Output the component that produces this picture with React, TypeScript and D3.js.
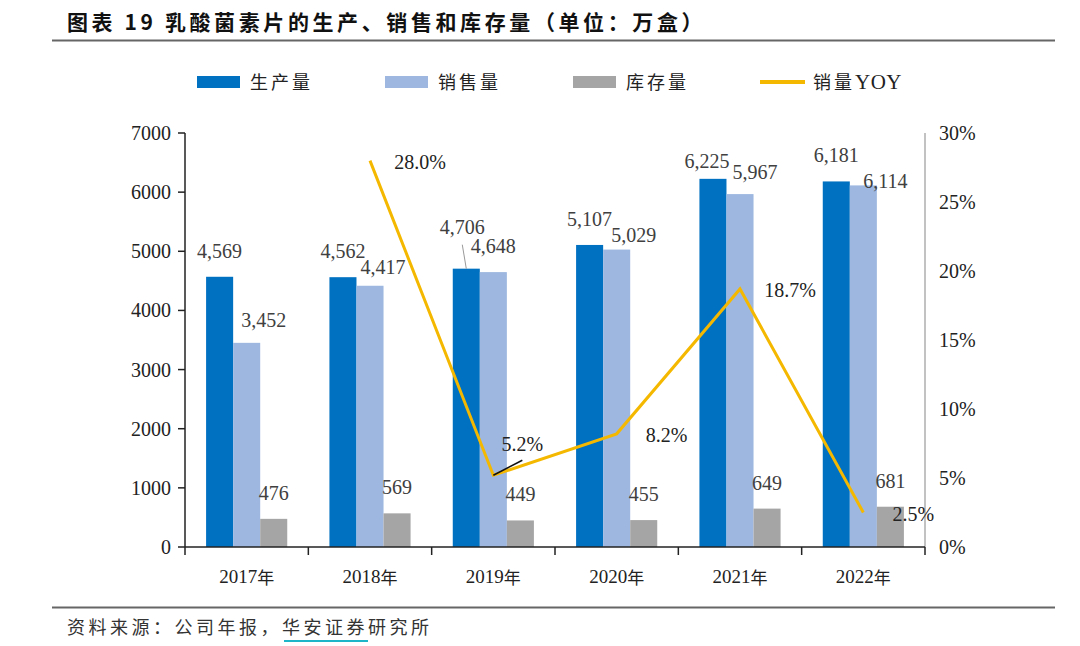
import * as d3 from "d3";

const years = ["2017年", "2018年", "2019年", "2020年", "2021年", "2022年"];
const production = [4569, 4562, 4706, 5107, 6225, 6181];
const sales = [3452, 4417, 4648, 5029, 5967, 6114];
const inventory = [476, 569, 449, 455, 649, 681];
// sales YOY, first year has none
const yoy = [null, 28.0, 5.2, 8.2, 18.7, 2.5];
const leftTicks = [0, 1000, 2000, 3000, 4000, 5000, 6000, 7000];
const rightTicks = [0, 5, 10, 15, 20, 25, 30];

// label nudges (excel moved a few labels to avoid overlap)
const prodNudge = [[0, 0], [0, 0], [-4, -16], [0, 0], [-6, 8], [0, 0]];
const salesNudge = [[17, 3], [13, 7], [0, 0], [17, 11], [15, 4], [22, 22]];
const yoyNudge = [[0, 0], [0, 0], [-21, -32], [0, 0], [0, 0], [0, 0]];

const COLORS = { prod: "#0070C0", sales: "#9DB7E0", inv: "#A5A5A5", line: "#F5B800" };
const serif = "'Liberation Serif', 'Times New Roman', 'Noto Sans CJK SC', serif";
const cjk = "'Noto Sans CJK SC', sans-serif";

export default function App() {
  const width = 1080;
  const height = 646;
  const left = 185;
  const right = 925;
  const top = 133;
  const bottom = 547;

  const x = d3.scaleBand().domain(years).range([left, right]);
  const inner = d3
    .scaleBand()
    .domain(["prod", "sales", "inv"])
    .range([0, x.bandwidth()])
    .paddingOuter(0.78)
    .paddingInner(0);
  const y = d3.scaleLinear().domain([0, 7000]).range([bottom, top]);
  const y2 = d3.scaleLinear().domain([0, 30]).range([bottom, top]);

  const series = [
    { key: "prod", values: production, color: COLORS.prod, nudge: prodNudge },
    { key: "sales", values: sales, color: COLORS.sales, nudge: salesNudge },
    { key: "inv", values: inventory, color: COLORS.inv, nudge: null },
  ];

  const linePts = years
    .map((yr, i) => ({ yr, v: yoy[i] }))
    .filter((d) => d.v !== null) as { yr: string; v: number }[];
  const line = d3
    .line<{ yr: string; v: number }>()
    .x((d) => x(d.yr)! + x.bandwidth() / 2)
    .y((d) => y2(d.v));

  const fmt = d3.format(",");
  const legend = [
    { label: "生产量", color: COLORS.prod, x: 197, type: "rect" },
    { label: "销售量", color: COLORS.sales, x: 385, type: "rect" },
    { label: "库存量", color: COLORS.inv, x: 573, type: "rect" },
    { label: "销量YOY", color: COLORS.line, x: 760, type: "line" },
  ];

  const boundaries = years.map((yr) => x(yr)!).concat([right]);

  return (
    <div style={{ position: "absolute", left: 0, top: 0 }}>
      <svg width={width} height={height} style={{ display: "block", background: "#fff" }}>
        {/* title */}
        <text x={67} y={30} fontFamily={cjk} fontWeight={700} fontSize={21} letterSpacing={3.6} fill="#111">
          图表 19 乳酸菌素片的生产、销售和库存量（单位：万盒）
        </text>
        <line x1={52} x2={1055} y1={40.5} y2={40.5} stroke="#666" strokeWidth={2} />

        {/* legend */}
        {legend.map((l) => (
          <g key={l.label}>
            {l.type === "rect" ? (
              <rect x={l.x} y={76} width={43} height={12} fill={l.color} />
            ) : (
              <line x1={l.x} x2={l.x + 45} y1={82} y2={82} stroke={l.color} strokeWidth={4} />
            )}
            <text x={l.x + 53} y={89} fontFamily={cjk} fontSize={18} letterSpacing={3} fill="#222">
              {l.label === "销量YOY" ? (
                <>
                  销量<tspan fontFamily={serif} fontSize={21} letterSpacing={0.5}>YOY</tspan>
                </>
              ) : (
                l.label
              )}
            </text>
          </g>
        ))}

        {/* bars */}
        {series.map((s) =>
          s.values.map((v, i) => (
            <rect
              key={s.key + i}
              x={x(years[i])! + inner(s.key)!}
              y={y(v)}
              width={inner.bandwidth()}
              height={bottom - y(v)}
              fill={s.color}
            />
          ))
        )}

        {/* bar labels */}
        {series.map((s) =>
          s.values.map((v, i) => {
            const [dx, dy] = s.nudge ? s.nudge[i] : [0, 0];
            const cx = x(years[i])! + inner(s.key)! + inner.bandwidth() / 2;
            return (
              <text
                key={"l" + s.key + i}
                x={cx + dx}
                y={y(v) - 26 + dy}
                textAnchor="middle"
                dominantBaseline="central"
                fontFamily={serif}
                fontSize={20}
                fill="#404040"
              >
                {fmt(v)}
              </text>
            );
          })
        )}
        {/* leader line for 2019 production */}
        <line
          x1={x(years[2])! + inner("prod")! + inner.bandwidth() / 2 - 4}
          y1={y(production[2]) - 24}
          x2={x(years[2])! + inner("prod")! + inner.bandwidth() / 2}
          y2={y(production[2])}
          stroke="#999"
          strokeWidth={1}
        />

        {/* axes */}
        <line x1={left} x2={left} y1={top} y2={bottom} stroke="#222" strokeWidth={1.5} />
        {leftTicks.map((t) => (
          <g key={"lt" + t}>
            <line x1={left - 7} x2={left} y1={y(t)} y2={y(t)} stroke="#222" strokeWidth={1.5} />
            <text
              x={left - 14}
              y={y(t)}
              textAnchor="end"
              dominantBaseline="central"
              fontFamily={serif}
              fontSize={20}
              fill="#222"
            >
              {t}
            </text>
          </g>
        ))}
        <line x1={right} x2={right} y1={top} y2={bottom} stroke="#999" strokeWidth={1.2} />
        {rightTicks.map((t) => (
          <text
            key={"rt" + t}
            x={right + 14}
            y={y2(t)}
            dominantBaseline="central"
            fontFamily={serif}
            fontSize={20}
            fill="#222"
          >
            {t}%
          </text>
        ))}
        <line x1={left} x2={right} y1={bottom} y2={bottom} stroke="#222" strokeWidth={1.5} />
        {boundaries.map((b, i) => (
          <line key={"bt" + i} x1={b} x2={b} y1={bottom} y2={bottom + 8} stroke="#222" strokeWidth={1.5} />
        ))}
        {years.map((yr) => (
          <text
            key={"c" + yr}
            x={x(yr)! + x.bandwidth() / 2}
            y={576}
            textAnchor="middle"
            dominantBaseline="central"
            fontFamily={serif}
            fontSize={19}
            fill="#222"
          >
            {yr.slice(0, 4)}
            <tspan fontFamily={cjk} fontSize={17}>
              年
            </tspan>
          </text>
        ))}

        {/* yoy line */}
        <path d={line(linePts)!} fill="none" stroke={COLORS.line} strokeWidth={3} />
        {/* leader for 5.2% */}
        <line
          x1={x(years[2])! + x.bandwidth() / 2}
          y1={y2(yoy[2]!)}
          x2={x(years[2])! + x.bandwidth() / 2 + 29}
          y2={y2(yoy[2]!) - 15}
          stroke="#111"
          strokeWidth={1.5}
        />
        {linePts.map((d) => {
          const i = years.indexOf(d.yr);
          const [dx, dy] = yoyNudge[i];
          return (
            <text
              key={"y" + d.yr}
              x={x(d.yr)! + x.bandwidth() / 2 + 50 + dx}
              y={y2(d.v) + 1 + dy}
              textAnchor="middle"
              dominantBaseline="central"
              fontFamily={serif}
              fontSize={20}
              fill="#222"
            >
              {d.v.toFixed(1)}%
            </text>
          );
        })}

        {/* source */}
        <line x1={52} x2={1055} y1={607.5} y2={607.5} stroke="#666" strokeWidth={2} />
        <text x={67} y={634} fontFamily={cjk} fontSize={18} letterSpacing={3.5} fill="#333">
          资料来源：公司年报，华安证券研究所
        </text>
        <line x1={284} x2={368} y1={641} y2={641} stroke="#1FB5C9" strokeWidth={2} />
      </svg>
    </div>
  );
}
